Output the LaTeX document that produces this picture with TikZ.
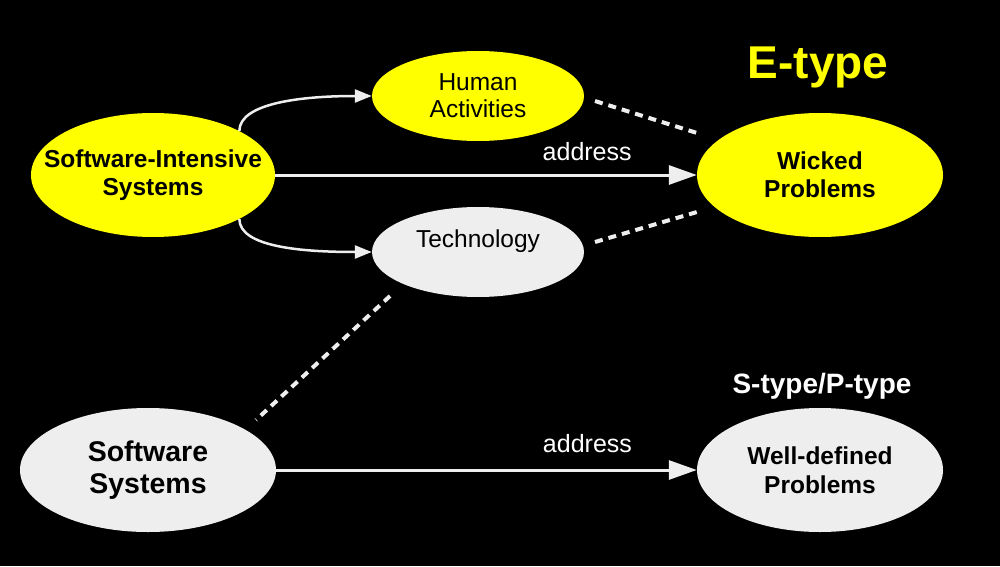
\documentclass[tikz,border=0pt]{standalone}
\usepackage{fontspec}
\setmainfont{Liberation Sans}
\usetikzlibrary{arrows.meta,shapes.geometric}
\definecolor{hiyellow}{HTML}{FFFF00}
\definecolor{paleg}{HTML}{EEEEEE}

\begin{document}
\begin{tikzpicture}[x=1pt, y=1pt,
    blob/.style={ellipse, inner xsep=-40pt, inner ysep=0pt, align=center, text=black},
    yblob/.style={blob, fill=hiyellow},
    gblob/.style={blob, fill=paleg},
    main arrow/.style={draw=paleg, line width=3pt, -{Triangle[length=28pt, width=19pt]}},
    bend arrow/.style={draw=paleg, line width=2.5pt, -{Triangle[length=17pt, width=13pt]}},
    dash link/.style={draw=paleg, line width=4pt, dash pattern=on 8pt off 6pt},
    addr/.style={text=white, font=\fontsize{25}{28}\selectfont}]
    % black page.
    \fill[black] (0, 0) rectangle (1000, 566);
    \useasboundingbox (0, 0) rectangle (1000, 566);
    % left column.
    \node[yblob, minimum width=244pt, minimum height=124pt,
        font=\bfseries\fontsize{24.5}{28}\selectfont] (sis) at (153, 391) {Software-Intensive\\Systems};
    \node[gblob, minimum width=256pt, minimum height=124pt,
        font=\bfseries\fontsize{28.5}{32}\selectfont] (soft) at (148, 96) {Software\\Systems};
    % middle column.
    \node[yblob, minimum width=212pt, minimum height=90pt,
        font=\fontsize{24.5}{27}\selectfont] (human) at (478, 470) {Human\\Activities};
    \node[gblob, minimum width=212pt, minimum height=90pt, text depth=26pt,
        font=\fontsize{24.5}{27}\selectfont] (tech) at (478, 314) {Technology};
    % right column.
    \node[yblob, minimum width=246pt, minimum height=124pt,
        font=\bfseries\fontsize{24.5}{28}\selectfont] (wicked) at (820, 391) {Wicked\\Problems};
    \node[gblob, minimum width=246pt, minimum height=124pt,
        font=\bfseries\fontsize{24.5}{29}\selectfont] (welldef) at (820, 96) {Well-defined\\Problems};
    % type labels.
    \node[text=hiyellow, font=\bfseries\fontsize{46}{50}\selectfont] (etype) at (818, 499) {E-type};
    \node[text=white, font=\bfseries\fontsize{28}{30}\selectfont] (stype) at (822, 180) {S-type/P-type};
    % address arrows.
    \draw[main arrow] (sis) -- node[addr, pos=0.74, yshift=23pt] {address} (wicked);
    \draw[main arrow] (soft) -- node[addr, pos=0.74, yshift=26pt] {address} (welldef);
    % bent arrows out of the top system.
    \draw[bend arrow] (sis.27) .. controls +(0, 28) and +(-70, 0) .. (human.west);
    \draw[bend arrow] (sis.-27) .. controls +(0, -28) and +(-70, 0) .. (tech.west);
    % dotted links.
    \coordinate (human end) at (595, 465);
    \coordinate (wicked top) at (697, 433);
    \coordinate (tech end) at (595, 324);
    \coordinate (wicked low) at (697, 354);
    \coordinate (tech low) at (390, 270);
    \coordinate (soft top) at (256, 146);
    \draw[dash link] (human end) -- (wicked top);
    \draw[dash link] (tech end) -- (wicked low);
    \draw[dash link] (tech low) -- (soft top);
\end{tikzpicture}
\end{document}
